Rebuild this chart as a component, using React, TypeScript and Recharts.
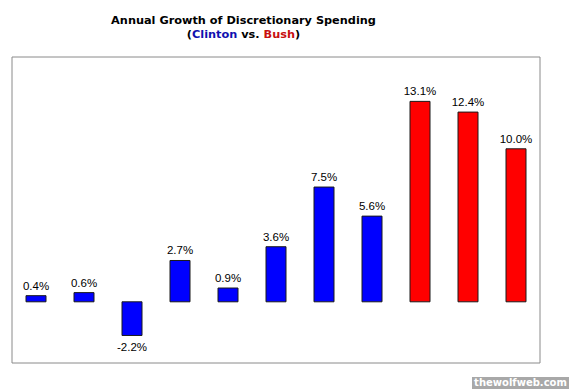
import { BarChart, Bar, XAxis, YAxis, Cell, LabelList, ReferenceArea } from 'recharts';

// Fiscal years, Clinton first then Bush
const years = ['1994', '1995', '1996', '1997', '1998', '1999', '2000', '2001', '2002', '2003', '2004'];
const growth = [0.4, 0.6, -2.2, 2.7, 0.9, 3.6, 7.5, 5.6, 13.1, 12.4, 10.0];
const president = ['Clinton', 'Clinton', 'Clinton', 'Clinton', 'Clinton', 'Clinton', 'Clinton', 'Clinton', 'Bush', 'Bush', 'Bush'];

const presidentColor: Record<string, string> = { Clinton: '#0000ff', Bush: '#ff0000' };

const data = years.map((year, i) => ({ year, growth: growth[i], president: president[i] }));

const BarLabel = (props: any) => {
  const { x, y, width, height, value } = props;
  const top = Math.min(y, y + height);
  const bottom = Math.max(y, y + height);
  const cx = x + width / 2;
  const ty = value >= 0 ? top - 6 : bottom + 16;
  return (
    <text x={cx} y={ty} textAnchor="middle" fontSize={11.5} fill="#000"
      fontFamily="Liberation Sans, Arial, sans-serif">
      {Number(value).toFixed(1)}%
    </text>
  );
};

const App = () => {
  return (
    <div style={{ position: 'absolute', left: 0, top: 0, width: 569, height: 389, background: '#fff' }}>
      <div style={{
        position: 'absolute', left: 0, top: 14, width: 487, textAlign: 'center',
        fontFamily: 'DejaVu Sans, Verdana, sans-serif', fontWeight: 'bold', fontSize: 11.3, lineHeight: '14px', color: '#000'
      }}>
        <div>Annual Growth of Discretionary Spending</div>
        <div>(<span style={{ color: '#1010b0' }}>Clinton</span> vs. <span style={{ color: '#c81010' }}>Bush</span>)</div>
      </div>
      <BarChart width={569} height={389} data={data}
        margin={{ top: 57, right: 29, bottom: 26, left: 12 }}>
        <XAxis dataKey="year" hide padding={{ left: 0, right: 0 }} />
        <YAxis hide domain={[-4, 16]} />
        <ReferenceArea y1={-4} y2={16} fill="none" stroke="#8a8a8a" strokeWidth={1} />
        <Bar dataKey="growth" barSize={20} stroke="#1a1a1a" strokeWidth={1} isAnimationActive={false}>
          {data.map((d) => (
            <Cell key={d.year} fill={presidentColor[d.president]} />
          ))}
          <LabelList dataKey="growth" content={BarLabel} />
        </Bar>
      </BarChart>
      <div style={{
        position: 'absolute', left: 472, top: 377, width: 97, height: 12, background: '#a8a8a8',
        color: '#fff', fontFamily: 'Verdana, DejaVu Sans, sans-serif', fontWeight: 'bold', fontSize: 10,
        lineHeight: '12px', textAlign: 'center'
      }}>thewolfweb.com</div>
    </div>
  );
};

export default App;
